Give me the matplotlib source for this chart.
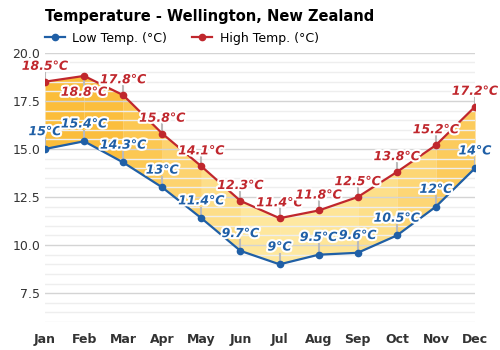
import matplotlib
matplotlib.use('Agg')
import matplotlib.pyplot as plt
import matplotlib.patheffects as pe
import numpy as np
from matplotlib.colors import to_rgb

months = ['Jan', 'Feb', 'Mar', 'Apr', 'May', 'Jun', 'Jul', 'Aug', 'Sep', 'Oct', 'Nov', 'Dec']
low = [15, 15.4, 14.3, 13, 11.4, 9.7, 9, 9.5, 9.6, 10.5, 12, 14]
high = [18.5, 18.8, 17.8, 15.8, 14.1, 12.3, 11.4, 11.8, 12.5, 13.8, 15.2, 17.2]
low_labels = ['15°C', '15.4°C', '14.3°C', '13°C', '11.4°C', '9.7°C', '9°C', '9.5°C', '9.6°C', '10.5°C', '12°C', '14°C']
high_labels = ['18.5°C', '18.8°C', '17.8°C', '15.8°C', '14.1°C', '12.3°C', '11.4°C', '11.8°C', '12.5°C', '13.8°C', '15.2°C', '17.2°C']

blue = '#1f5fa6'
red = '#c0272d'
warm = np.array(to_rgb('#fbbd3a'))
cool = np.array(to_rgb('#fee9a2'))

fig = plt.figure(figsize=(5, 3.5), dpi=100)
ax = fig.add_axes([0.09, 0.08, 0.86, 0.769])
x = np.arange(12)

# fill between lines, one band per month gap, colour by warmth
for i in range(11):
    t = ((high[i] + high[i + 1]) / 2 - 11.5) / (18.5 - 11.5)
    t = min(max(t, 0), 1)
    c = cool + (warm - cool) * t
    ax.fill_between(x[i:i + 2], low[i:i + 2], high[i:i + 2], color=c, lw=0, zorder=1)

ax.plot(x, low, color=blue, lw=1.6, marker='o', ms=4.5, zorder=4, label='Low Temp. (°C)')
ax.plot(x, high, color=red, lw=1.6, marker='o', ms=4.5, zorder=4, label='High Temp. (°C)')

stroke = [pe.withStroke(linewidth=3, foreground='white')]
for i in range(12):
    # high labels
    off = -0.85 if i == 1 else 0.8
    ax.plot([x[i], x[i]], [high[i], high[i] + off * 0.6], color='#bbbbbb', lw=1.5, zorder=2)
    ax.text(x[i], high[i] + off, high_labels[i], color=red, fontsize=9, fontweight='bold',
            fontstyle='italic', ha='center', va='center', path_effects=stroke, zorder=5)
    # low labels
    ax.plot([x[i], x[i]], [low[i], low[i] + 0.55], color='#bbbbbb', lw=1.5, zorder=2)
    ax.text(x[i], low[i] + 0.9, low_labels[i], color=blue, fontsize=9, fontweight='bold',
            fontstyle='italic', ha='center', va='center', path_effects=stroke, zorder=5)

ax.set_xlim(0, 11)
ax.set_ylim(6, 20)
ax.set_yticks([7.5, 10, 12.5, 15, 17.5, 20])
ax.set_yticklabels(['7.5', '10.0', '12.5', '15.0', '17.5', '20.0'])
ax.set_yticks(np.arange(6, 20, 0.5), minor=True)
ax.set_xticks(x)
ax.set_xticklabels(months, fontweight='bold')
ax.tick_params(axis='both', length=0, labelsize=9, colors='#333333')
ax.tick_params(axis='x', pad=8)
ax.tick_params(axis='y', which='minor', length=0)
ax.grid(axis='y', which='major', color='#d4d4d4', lw=1, zorder=0)
ax.grid(axis='y', which='minor', color='#eeeeee', lw=1, zorder=0)
for s in ax.spines.values():
    s.set_visible(False)

fig.text(0.09, 0.952, 'Temperature - Wellington, New Zealand', fontsize=10.5, fontweight='bold', va='center')
ax.legend(loc='lower left', bbox_to_anchor=(0.0, 1.03), ncol=2, frameon=False, fontsize=9,
          handlelength=1.6, columnspacing=2.0, borderaxespad=0, handletextpad=0.6, borderpad=0)

fig.savefig('out.png', dpi=100)
